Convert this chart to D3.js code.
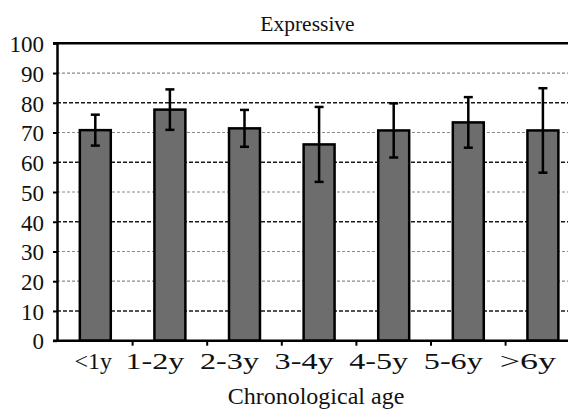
<!DOCTYPE html>
<html>
<head>
<meta charset="utf-8">
<script src="https://cdn.jsdelivr.net/npm/d3@7"></script>
<style>
  body { margin: 0; background: #fff; }
</style>
</head>
<body>
<svg id="chart" width="568" height="410"></svg>
<script>
const categories = ["<1y", "1-2y", "2-3y", "3-4y", "4-5y", "5-6y", ">6y"];
const means = [70.8, 77.7, 71.4, 66.0, 70.7, 73.4, 70.7];
const sds = [5.2, 6.8, 6.2, 12.6, 9.1, 8.5, 14.2];
const yTicks = [0, 10, 20, 30, 40, 50, 60, 70, 80, 90, 100];
const title = "Expressive";
const xTitle = "Chronological age";

const FONT = "'Liberation Serif'";
const svg = d3.select("#chart");
const W = 568, plotTop = 43.3, plotBottom = 340.7, plotLeft = 57;

const y = d3.scaleLinear().domain([0, 100]).range([plotBottom, plotTop]);
const x = d3.scaleBand().domain(categories)
    .range([58, 58 + 7 * 74.6])
    .paddingInner(0.585).paddingOuter(0.2925);

// gridlines: heavier dashes on some rows, as in the scan
const heavy = new Set([10, 40, 60, 80]);
svg.append("g").selectAll("line")
    .data(yTicks.filter(v => v > 0 && v < 100))
    .join("line")
    .attr("x1", plotLeft).attr("x2", W)
    .attr("y1", d => y(d)).attr("y2", d => y(d))
    .attr("stroke", d => heavy.has(d) ? "#1a1a1a" : "#8a8a8a")
    .attr("stroke-width", d => heavy.has(d) ? 1.6 : 1.2)
    .attr("stroke-dasharray", d => heavy.has(d) ? "4,2" : "3,2");

// top border (the 100 line)
svg.append("line")
    .attr("x1", plotLeft - 4).attr("x2", W)
    .attr("y1", y(100)).attr("y2", y(100))
    .attr("stroke", "#000").attr("stroke-width", 2.5);

// bars
svg.append("g").selectAll("rect")
    .data(categories)
    .join("rect")
    .attr("x", d => x(d))
    .attr("width", x.bandwidth())
    .attr("y", (d, i) => y(means[i]))
    .attr("height", (d, i) => y(0) - y(means[i]))
    .attr("fill", "#6d6d6d")
    .attr("stroke", "#000")
    .attr("stroke-width", 2.5);

// error bars
const err = svg.append("g").attr("stroke", "#000").attr("stroke-width", 2.5);
categories.forEach((c, i) => {
    const cx = x(c) + x.bandwidth() / 2;
    const hi = y(means[i] + sds[i]), lo = y(means[i] - sds[i]);
    err.append("line").attr("x1", cx).attr("x2", cx).attr("y1", hi).attr("y2", lo);
    err.append("line").attr("x1", cx - 4.5).attr("x2", cx + 4.5).attr("y1", hi).attr("y2", hi);
    err.append("line").attr("x1", cx - 4.5).attr("x2", cx + 4.5).attr("y1", lo).attr("y2", lo);
});

// y axis
const yAxis = svg.append("g")
    .attr("transform", `translate(${plotLeft},0)`)
    .call(d3.axisLeft(y).tickValues(yTicks).tickSize(4).tickPadding(9).tickSizeOuter(0));
yAxis.select(".domain").attr("stroke", "#000").attr("stroke-width", 2.5);
yAxis.selectAll(".tick line").attr("stroke", "#000").attr("stroke-width", 2);
yAxis.selectAll(".tick text")
    .attr("font-family", FONT)
    .attr("font-size", 23)
    .attr("fill", "#111")
    .attr("dy", "0.36em");

// x axis line and ticks between categories
svg.append("line")
    .attr("x1", plotLeft - 4).attr("x2", W)
    .attr("y1", y(0)).attr("y2", y(0))
    .attr("stroke", "#000").attr("stroke-width", 2.5);
svg.append("g").selectAll("line")
    .data(categories.slice(0, -1))
    .join("line")
    .attr("x1", d => x(d) + x.bandwidth() / 2 + x.step() / 2)
    .attr("x2", d => x(d) + x.bandwidth() / 2 + x.step() / 2)
    .attr("y1", y(0)).attr("y2", y(0) + 5)
    .attr("stroke", "#000").attr("stroke-width", 2);

// category labels (set as one run of text in the original, so they sit left of the bars)
svg.append("g").selectAll("text")
    .data(categories)
    .join("text")
    .attr("x", (d, i) => x(d) + x.bandwidth() / 2 + (i === 0 ? -2 : -15))
    .attr("y", 369)
    .attr("text-anchor", "middle")
    .attr("font-family", FONT)
    .attr("font-size", 24)
    .attr("fill", "#111")
    .text(d => d)
    .each(function (d, i) {
        const w = this.getComputedTextLength();
        const k = i === 0 ? 1 : (d.length === 3 ? 1.5 : 1.34);
        if (k > 1) d3.select(this).attr("textLength", w * k).attr("lengthAdjust", "spacingAndGlyphs");
    });

svg.append("text")
    .attr("x", 307.5).attr("y", 31)
    .attr("text-anchor", "middle")
    .attr("font-family", FONT)
    .attr("font-size", 21.5)
    .attr("fill", "#111")
    .text(title);

svg.append("text")
    .attr("x", 316).attr("y", 404)
    .attr("text-anchor", "middle")
    .attr("font-family", FONT)
    .attr("font-size", 24)
    .attr("fill", "#111")
    .text(xTitle);
</script>
</body>
</html>
